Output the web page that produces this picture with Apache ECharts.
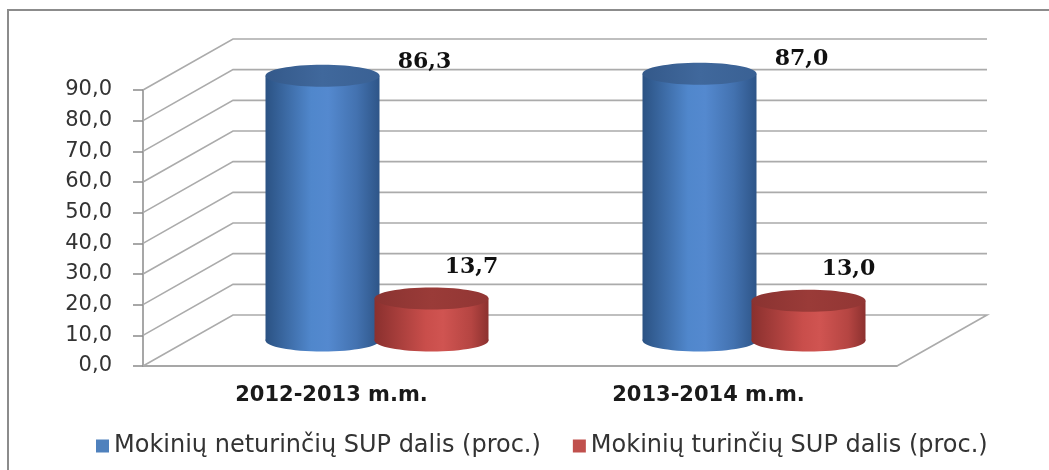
<!DOCTYPE html>
<html>
<head>
<meta charset="utf-8">
<script src="https://cdn.jsdelivr.net/npm/echarts@6/dist/echarts.min.js"></script>
<style>
  html, body { margin: 0; background: #fff; }
  #main { width: 1049px; height: 470px; }
</style>
</head>
<body>
<div id="main"></div>
<script>
// duomenys
var categories = ['2012-2013 m.m.', '2013-2014 m.m.'];
var seriesNames = ['Mokinių neturinčių SUP dalis (proc.)', 'Mokinių turinčių SUP dalis (proc.)'];
var withoutSup = [86.3, 87.0];
var withSup = [13.7, 13.0];
var yTicks = [0, 10, 20, 30, 40, 50, 60, 70, 80, 90];

(function () {
  var myChart = echarts.init(document.getElementById('main'));
  // 3D gylis (px)
  var DX = 90, DY = -51;
  var RX = 57, RY = 11;

  function fmt(v) {
    return v.toFixed(1).replace('.', ',');
  }

  // sienos ir grindys
  function renderWall(params, api) {
    var cs = params.coordSys;
    var v = api.value(1);
    var y = api.coord([0, v])[1];
    var x0 = cs.x, x1 = cs.x + cs.width;
    var pts = [[x0, y], [x0 + DX, y + DY], [x1 + DX, y + DY]];
    if (v === 0) pts.push([x1, y]);
    return {
      type: 'polyline',
      shape: { points: pts },
      style: { stroke: '#ababab', lineWidth: 1.6, fill: null }
    };
  }

  function grad(stops) {
    return new echarts.graphic.LinearGradient(0, 0, 1, 0, stops);
  }

  // cilindras
  function cylinder(offset, body, top, lbl) {
    return function (params, api) {
      var i = api.value(0), v = api.value(1);
      var pTop = api.coord([i, v]);
      var pBase = api.coord([i, 0]);
      var cx = pTop[0] + offset + DX / 2;
      var yTop = pTop[1] + DY / 2;
      var yBot = pBase[1] + DY / 2;
      return {
        type: 'group',
        children: [
          {
            type: 'ellipse',
            shape: { cx: cx, cy: yBot, rx: RX, ry: RY },
            style: { fill: grad(body) }
          },
          {
            type: 'rect',
            shape: { x: cx - RX, y: yTop, width: RX * 2, height: yBot - yTop },
            style: { fill: grad(body) }
          },
          {
            type: 'ellipse',
            shape: { cx: cx, cy: yTop, rx: RX, ry: RY },
            style: { fill: grad(top) }
          },
          {
            type: 'text',
            x: cx + lbl[0],
            y: yTop + lbl[1],
            style: {
              text: fmt(v),
              font: 'bold 22px "DejaVu Serif"',
              fill: '#111',
              align: 'center',
              verticalAlign: 'middle',
              shadowColor: 'rgba(0,0,0,0.25)',
              shadowBlur: 2,
              shadowOffsetX: 1,
              shadowOffsetY: 1
            }
          }
        ]
      };
    };
  }

  var blueBody = [
    { offset: 0, color: '#2b5283' },
    { offset: 0.4, color: '#5087cc' },
    { offset: 0.55, color: '#5489cf' },
    { offset: 0.8, color: '#4372b0' },
    { offset: 1, color: '#2e5588' }
  ];
  var blueTop = [
    { offset: 0, color: '#34598a' },
    { offset: 0.5, color: '#40689c' },
    { offset: 1, color: '#3a6194' }
  ];
  var redBody = [
    { offset: 0, color: '#8a302e' },
    { offset: 0.45, color: '#c94e4b' },
    { offset: 0.6, color: '#d05451' },
    { offset: 0.85, color: '#b54542' },
    { offset: 1, color: '#8c312f' }
  ];
  var redTop = [
    { offset: 0, color: '#8a3331' },
    { offset: 0.5, color: '#9a3b38' },
    { offset: 1, color: '#923634' }
  ];

  var option = {
    animation: false,
    graphic: [
      {
        type: 'rect',
        shape: { x: 8, y: 10, width: 1200, height: 600 },
        style: { fill: null, stroke: '#8c8c8c', lineWidth: 2 }
      }
    ],
    legend: {
      data: seriesNames,
      left: 91,
      top: 429,
      icon: 'rect',
      itemWidth: 13,
      itemHeight: 13,
      itemGap: 32,
      textStyle: { fontFamily: 'DejaVu Sans', fontSize: 24, color: '#333' }
    },
    grid: { left: 143, right: 152, top: 90, bottom: 104 },
    xAxis: {
      type: 'category',
      data: categories,
      axisLine: { lineStyle: { color: '#8a8a8a', width: 1.5 } },
      axisTick: { length: 6, lineStyle: { color: '#8a8a8a', width: 1.5 } },
      axisLabel: {
        margin: 19,
        fontFamily: 'DejaVu Sans',
        fontWeight: 'bold',
        fontSize: 21,
        color: '#1a1a1a'
      }
    },
    yAxis: {
      type: 'value',
      min: 0,
      max: 90,
      interval: 10,
      axisLine: { show: true, lineStyle: { color: '#8a8a8a', width: 1.5 } },
      axisTick: { show: true, length: 10, lineStyle: { color: '#8a8a8a', width: 1.5 } },
      splitLine: { show: false },
      axisLabel: {
        margin: 31,
        formatter: fmt,
        fontFamily: 'DejaVu Sans',
        fontSize: 21,
        color: '#333'
      }
    },
    series: [
      {
        name: 'walls',
        type: 'custom',
        z: 1,
        silent: true,
        renderItem: renderWall,
        encode: { x: 0, y: 1 },
        data: yTicks.map(function (v) { return [0, v]; })
      },
      {
        name: seriesNames[0],
        type: 'custom',
        z: 3,
        itemStyle: { color: '#4f81bd' },
        renderItem: cylinder(-54, blueBody, blueTop, [102, -14]),
        encode: { x: 0, y: 1 },
        data: withoutSup.map(function (v, i) { return [i, v]; })
      },
      {
        name: seriesNames[1],
        type: 'custom',
        z: 4,
        itemStyle: { color: '#c0504d' },
        renderItem: cylinder(55, redBody, redTop, [40, -31]),
        encode: { x: 0, y: 1 },
        data: withSup.map(function (v, i) { return [i, v]; })
      }
    ]
  };
  myChart.setOption(option);
})();
</script>
</body>
</html>
